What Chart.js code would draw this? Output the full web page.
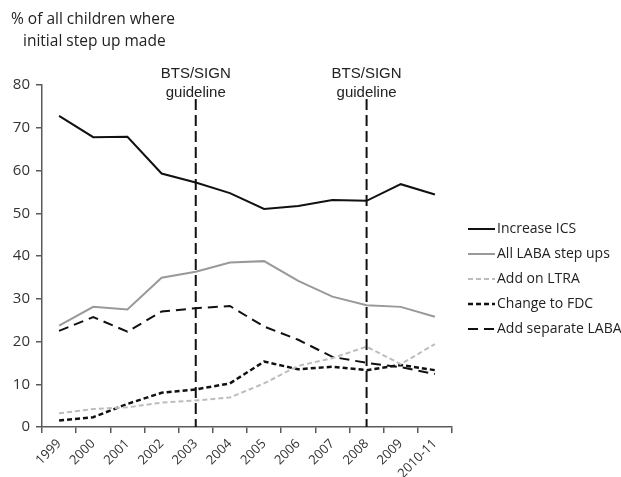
<!DOCTYPE html>
<html>
<head>
<meta charset="utf-8">
<script src="https://cdn.jsdelivr.net/npm/chart.js@4/dist/chart.umd.min.js"></script>
<style>
  body { margin: 0; background: #fff; }
  canvas { display: block; }
</style>
</head>
<body>
<canvas id="myChart" width="621" height="477"></canvas>
<script>
// 데이터
const years = ['1999', '2000', '2001', '2002', '2003', '2004', '2005', '2006', '2007', '2008', '2009', '2010-11'];
const increaseICS = [72.8, 67.8, 67.9, 59.3, 57.2, 54.7, 51.0, 51.7, 53.1, 52.9, 56.8, 54.4];
const allLABA = [23.7, 28.1, 27.5, 34.9, 36.3, 38.5, 38.8, 34.2, 30.5, 28.5, 28.1, 25.8];
const addLTRA = [3.2, 4.2, 4.6, 5.7, 6.2, 6.9, 10.2, 14.3, 16.1, 18.8, 14.7, 19.4];
const changeFDC = [1.5, 2.3, 5.4, 8.0, 8.8, 10.2, 15.3, 13.5, 14.1, 13.3, 14.5, 13.3];
const separateLABA = [22.5, 25.7, 22.3, 27.0, 27.8, 28.3, 23.5, 20.4, 16.4, 15.0, 14.0, 12.4];
const yTicks = [0, 10, 20, 30, 40, 50, 60, 70, 80];
const guidelineYears = ['2003', '2008'];
const titleLines = ['% of all children where', 'initial step up made'];

const axisColor = '#5a5a5a';
const textColor = '#222';

// 가이드라인 세로 점선과 글자
const guidelinePlugin = {
    id: 'guidelines',
    afterDatasetsDraw(chart) {
        const c = chart.ctx, x = chart.scales.x, y = chart.scales.y;
        c.save();
        guidelineYears.forEach(yr => {
            const px = x.getPixelForValue(years.indexOf(yr));
            c.strokeStyle = '#111';
            c.lineWidth = 2;
            c.setLineDash([11, 5]);
            c.beginPath();
            c.moveTo(px, 99);
            c.lineTo(px, y.bottom);
            c.stroke();
            c.setLineDash([]);
            c.fillStyle = textColor;
            c.font = '15px "Liberation Sans", Arial, sans-serif';
            c.textAlign = 'center';
            c.textBaseline = 'middle';
            c.fillText('BTS/SIGN', px, 74);
            c.fillText('guideline', px, 93);
        });
        // y축 제목
        c.font = '15.5px "Open Sans", sans-serif';
        c.textAlign = 'left';
        c.fillText(titleLines[0], 11, 20);
        c.fillText(titleLines[1], 23, 42);
        c.restore();
    }
};

// 오른쪽 범례
const legendPlugin = {
    id: 'sideLegend',
    afterDraw(chart) {
        const c = chart.ctx;
        c.save();
        chart.data.datasets.forEach((ds, i) => {
            const yy = 229 + i * 25;
            c.strokeStyle = ds.borderColor;
            c.lineWidth = ds.borderWidth;
            c.setLineDash(ds.borderDash || []);
            c.beginPath();
            c.moveTo(468, yy);
            c.lineTo(495, yy);
            c.stroke();
            c.setLineDash([]);
            c.fillStyle = textColor;
            c.font = '14px "Open Sans", sans-serif';
            c.textAlign = 'left';
            c.textBaseline = 'middle';
            c.fillText(ds.label, 497, yy);
        });
        c.restore();
    }
};

const ctx = document.querySelector('#myChart').getContext('2d');
const chart = new Chart(ctx, {
    type: 'line',
    data: {
        labels: years,
        datasets: [
            { label: 'Increase ICS', data: increaseICS, borderColor: '#111', borderWidth: 2 },
            { label: 'All LABA step ups', data: allLABA, borderColor: '#999', borderWidth: 2 },
            { label: 'Add on LTRA', data: addLTRA, borderColor: '#bdbdbd', borderWidth: 2, borderDash: [5, 3] },
            { label: 'Change to FDC', data: changeFDC, borderColor: '#111', borderWidth: 2.5, borderDash: [5, 3] },
            { label: 'Add separate LABA', data: separateLABA, borderColor: '#111', borderWidth: 2, borderDash: [10, 6] }
        ]
    },
    options: {
        responsive: false,
        animation: false,
        elements: {
            point: { radius: 0 },
            line: { tension: 0, fill: false }
        },
        layout: { padding: { top: 85, right: 169, bottom: 0, left: 0 } },
        scales: {
            x: {
                offset: true,
                grid: { offset: true, drawOnChartArea: false, drawTicks: true, tickLength: 6, color: axisColor, lineWidth: 1.5 },
                border: { color: axisColor, width: 1.5 },
                ticks: {
                    color: '#333',
                    font: { family: '"Open Sans", sans-serif', size: 13 },
                    maxRotation: 45, minRotation: 45, autoSkip: false, padding: 3
                },
                afterFit(scale) { scale.height = 50; }
            },
            y: {
                min: 0, max: 80,
                afterBuildTicks(scale) { scale.ticks = yTicks.map(v => ({ value: v })); },
                grid: { drawOnChartArea: false, drawTicks: true, tickLength: 6, color: axisColor, lineWidth: 1.5 },
                border: { color: axisColor, width: 1.5 },
                ticks: {
                    color: '#333',
                    font: { family: '"Open Sans", sans-serif', size: 15 },
                    padding: 6
                },
                afterFit(scale) { scale.width = 42; }
            }
        },
        plugins: {
            legend: { display: false },
            tooltip: { enabled: false }
        }
    },
    plugins: [guidelinePlugin, legendPlugin]
});
</script>
</body>
</html>
